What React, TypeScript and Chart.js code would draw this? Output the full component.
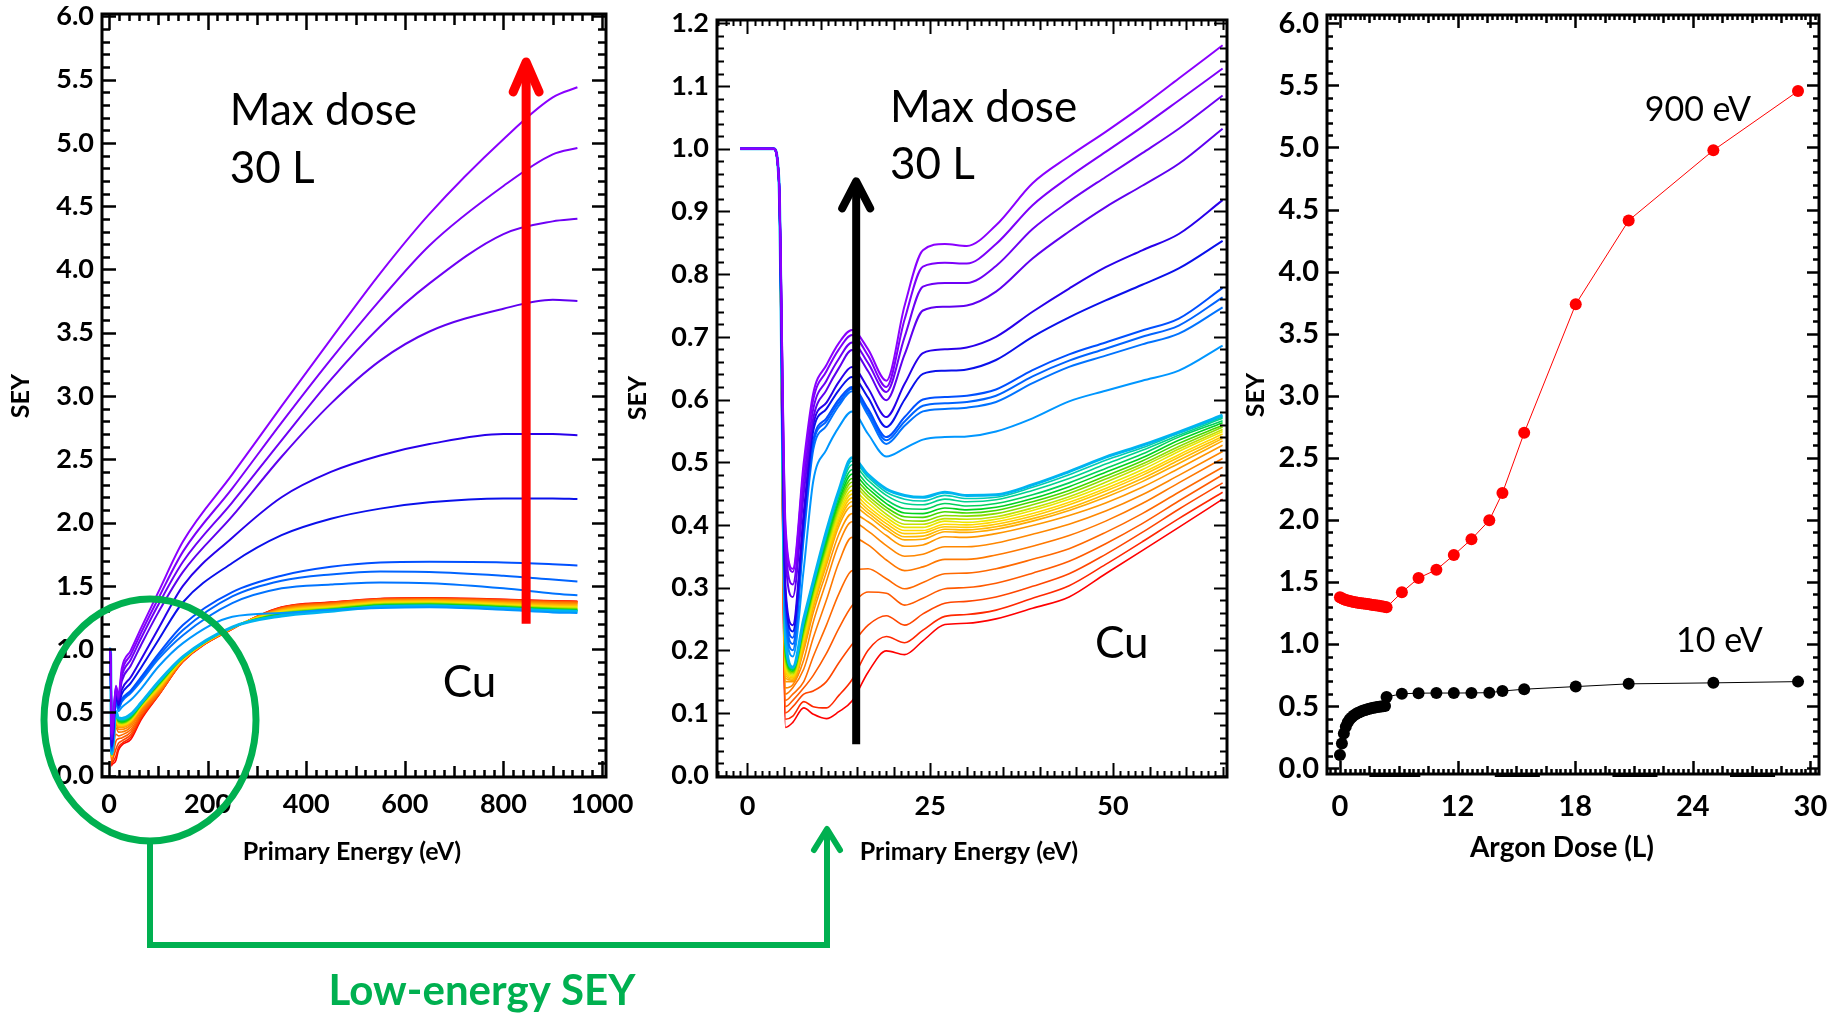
import React, { useEffect, useRef } from "react";
import { Chart, registerables } from "chart.js";

Chart.register(...registerables);

const W = 1837;
const H = 1015;
const FONT = "Lato, 'Open Sans', sans-serif";
const GREEN = "#00b050";

// ---------------- Panel 1 : SEY vs primary energy (0-1000 eV) ----------------
const p1Energy = [0, 3, 5, 6, 14, 19, 26, 44, 65, 100, 150, 250, 350, 450, 550, 650, 800, 900, 950];
// rows: V1, V2, V3, V4, B5, B6, B7, B8, B9, LB10 (highest dose first)
const p1Upper = [
  [1, 1, 0.40, 0.33, 0.711, 0.63, 0.848, 0.988, 1.165, 1.45, 1.85, 2.38, 2.92, 3.45, 3.97, 4.44, 5.03, 5.36, 5.44],
  [1, 1, 0.39, 0.325, 0.703, 0.62, 0.818, 0.955, 1.128, 1.40, 1.77, 2.27, 2.79, 3.29, 3.76, 4.19, 4.66, 4.91, 4.96],
  [1, 1, 0.37, 0.305, 0.691, 0.612, 0.786, 0.916, 1.085, 1.35, 1.69, 2.16, 2.65, 3.13, 3.55, 3.89, 4.28, 4.38, 4.40],
  [1, 1, 0.35, 0.285, 0.679, 0.599, 0.748, 0.868, 1.032, 1.29, 1.61, 2.05, 2.52, 2.94, 3.28, 3.51, 3.69, 3.76, 3.75],
  [1, 1, 0.30, 0.24, 0.652, 0.572, 0.680, 0.777, 0.918, 1.16, 1.50, 1.88, 2.20, 2.40, 2.53, 2.62, 2.70, 2.70, 2.69],
  [1, 1, 0.29, 0.23, 0.636, 0.556, 0.646, 0.731, 0.853, 1.07, 1.37, 1.68, 1.90, 2.03, 2.11, 2.16, 2.19, 2.19, 2.186],
  [1, 1, 0.28, 0.22, 0.620, 0.540, 0.604, 0.672, 0.778, 0.96, 1.19, 1.45, 1.58, 1.65, 1.684, 1.69, 1.685, 1.67, 1.66],
  [1, 1, 0.27, 0.21, 0.617, 0.535, 0.594, 0.662, 0.763, 0.94, 1.15, 1.416, 1.54, 1.59, 1.613, 1.61, 1.58, 1.55, 1.535],
  [1, 1, 0.26, 0.20, 0.613, 0.529, 0.585, 0.652, 0.747, 0.92, 1.11, 1.363, 1.48, 1.51, 1.526, 1.52, 1.48, 1.44, 1.425],
  [1, 1, 0.25, 0.19, 0.581, 0.509, 0.540, 0.597, 0.686, 0.86, 1.047, 1.255, 1.285, 1.31, 1.325, 1.33, 1.31, 1.29, 1.285],
];
// rows: C, D12 ... D1, L8 ... L1 (decreasing dose)
const p1Bundle = [
  [1, 1, 0.220, 0.173, 0.507, 0.457, 0.452, 0.485, 0.575, 0.740, 0.940, 1.174, 1.262, 1.298, 1.335, 1.340, 1.320, 1.302, 1.297],
  [1, 1, 0.216, 0.172, 0.502, 0.452, 0.447, 0.480, 0.572, 0.737, 0.938, 1.173, 1.265, 1.301, 1.337, 1.342, 1.322, 1.304, 1.299],
  [1, 1, 0.210, 0.171, 0.496, 0.447, 0.441, 0.474, 0.570, 0.733, 0.936, 1.173, 1.268, 1.304, 1.339, 1.344, 1.325, 1.307, 1.302],
  [1, 1, 0.203, 0.169, 0.488, 0.440, 0.434, 0.467, 0.566, 0.728, 0.934, 1.172, 1.272, 1.308, 1.342, 1.347, 1.328, 1.310, 1.305],
  [1, 1, 0.196, 0.168, 0.481, 0.434, 0.427, 0.461, 0.563, 0.723, 0.932, 1.172, 1.276, 1.312, 1.346, 1.351, 1.332, 1.314, 1.309],
  [1, 1, 0.190, 0.166, 0.474, 0.428, 0.421, 0.455, 0.559, 0.718, 0.930, 1.171, 1.280, 1.316, 1.350, 1.355, 1.336, 1.318, 1.313],
  [1, 1, 0.185, 0.164, 0.468, 0.423, 0.415, 0.450, 0.556, 0.712, 0.928, 1.171, 1.284, 1.320, 1.354, 1.359, 1.340, 1.322, 1.318],
  [1, 1, 0.180, 0.162, 0.462, 0.417, 0.410, 0.445, 0.552, 0.706, 0.926, 1.170, 1.288, 1.324, 1.358, 1.363, 1.344, 1.327, 1.323],
  [1, 1, 0.175, 0.160, 0.455, 0.412, 0.406, 0.441, 0.549, 0.700, 0.924, 1.170, 1.292, 1.328, 1.362, 1.367, 1.348, 1.332, 1.328],
  [1, 1, 0.170, 0.158, 0.449, 0.407, 0.401, 0.436, 0.545, 0.694, 0.922, 1.169, 1.296, 1.332, 1.366, 1.371, 1.352, 1.337, 1.333],
  [1, 1, 0.165, 0.156, 0.443, 0.402, 0.397, 0.432, 0.541, 0.688, 0.920, 1.168, 1.300, 1.336, 1.370, 1.375, 1.356, 1.341, 1.338],
  [1, 1, 0.160, 0.154, 0.437, 0.397, 0.393, 0.427, 0.538, 0.682, 0.918, 1.167, 1.304, 1.340, 1.374, 1.379, 1.361, 1.346, 1.343],
  [1, 1, 0.155, 0.152, 0.430, 0.392, 0.389, 0.423, 0.534, 0.676, 0.916, 1.166, 1.308, 1.344, 1.378, 1.383, 1.366, 1.351, 1.348],
  [1, 1, 0.150, 0.150, 0.418, 0.383, 0.381, 0.415, 0.527, 0.668, 0.914, 1.165, 1.312, 1.348, 1.381, 1.386, 1.370, 1.356, 1.353],
  [1, 1, 0.140, 0.145, 0.405, 0.367, 0.365, 0.401, 0.517, 0.660, 0.912, 1.164, 1.315, 1.352, 1.384, 1.389, 1.374, 1.361, 1.358],
  [1, 1, 0.130, 0.140, 0.380, 0.344, 0.345, 0.383, 0.506, 0.652, 0.910, 1.163, 1.318, 1.356, 1.387, 1.392, 1.378, 1.366, 1.363],
  [1, 1, 0.120, 0.130, 0.327, 0.314, 0.322, 0.362, 0.492, 0.645, 0.908, 1.162, 1.321, 1.360, 1.390, 1.395, 1.382, 1.370, 1.367],
  [1, 1, 0.110, 0.120, 0.271, 0.291, 0.298, 0.342, 0.480, 0.640, 0.906, 1.161, 1.324, 1.363, 1.393, 1.398, 1.386, 1.374, 1.371],
  [1, 1, 0.100, 0.110, 0.209, 0.255, 0.275, 0.322, 0.467, 0.636, 0.904, 1.160, 1.327, 1.366, 1.396, 1.401, 1.389, 1.377, 1.374],
  [1, 1, 0.090, 0.095, 0.153, 0.222, 0.254, 0.303, 0.452, 0.633, 0.902, 1.159, 1.330, 1.369, 1.398, 1.403, 1.391, 1.379, 1.376],
  [1, 1, 0.077, 0.085, 0.119, 0.199, 0.241, 0.285, 0.441, 0.630, 0.900, 1.158, 1.332, 1.371, 1.400, 1.405, 1.393, 1.381, 1.378],
];

// ---------------- Panel 2 : low-energy SEY (0-65 eV) ----------------
const p2Energy = [-1, 3.6, 4.3, 5.2, 6.2, 7.7, 9, 10.8, 12.5, 14.3, 16.5, 19, 21.5, 24, 27, 30, 34, 39, 44, 49, 54, 59, 65];
const p2Upper = [
  [1, 1, 0.95, 0.40, 0.33, 0.50, 0.61, 0.655, 0.69, 0.711, 0.68, 0.63, 0.75, 0.838, 0.848, 0.845, 0.878, 0.945, 0.988, 1.027, 1.068, 1.112, 1.165],
  [1, 1, 0.95, 0.39, 0.325, 0.49, 0.60, 0.645, 0.68, 0.703, 0.67, 0.62, 0.728, 0.812, 0.818, 0.817, 0.848, 0.91, 0.955, 0.995, 1.035, 1.077, 1.128],
  [1, 1, 0.95, 0.37, 0.305, 0.47, 0.585, 0.63, 0.665, 0.691, 0.658, 0.612, 0.70, 0.78, 0.786, 0.786, 0.813, 0.872, 0.916, 0.955, 0.993, 1.032, 1.085],
  [1, 1, 0.95, 0.35, 0.285, 0.45, 0.57, 0.615, 0.65, 0.679, 0.645, 0.599, 0.672, 0.742, 0.748, 0.750, 0.772, 0.825, 0.868, 0.907, 0.941, 0.976, 1.032],
  [1, 1, 0.95, 0.30, 0.24, 0.42, 0.56, 0.595, 0.628, 0.652, 0.618, 0.572, 0.625, 0.674, 0.680, 0.683, 0.70, 0.74, 0.777, 0.811, 0.838, 0.864, 0.918],
  [1, 1, 0.95, 0.29, 0.23, 0.41, 0.55, 0.585, 0.615, 0.636, 0.603, 0.556, 0.600, 0.641, 0.646, 0.648, 0.663, 0.70, 0.731, 0.758, 0.783, 0.809, 0.853],
  [1, 1, 0.95, 0.28, 0.22, 0.40, 0.535, 0.57, 0.600, 0.620, 0.585, 0.540, 0.572, 0.600, 0.604, 0.606, 0.616, 0.647, 0.672, 0.691, 0.710, 0.729, 0.778],
  [1, 1, 0.95, 0.27, 0.21, 0.39, 0.53, 0.565, 0.595, 0.617, 0.58, 0.535, 0.565, 0.590, 0.594, 0.596, 0.606, 0.637, 0.662, 0.681, 0.70, 0.718, 0.763],
  [1, 1, 0.95, 0.26, 0.20, 0.38, 0.52, 0.558, 0.590, 0.613, 0.575, 0.529, 0.558, 0.581, 0.585, 0.587, 0.596, 0.626, 0.652, 0.670, 0.688, 0.705, 0.747],
  [1, 1, 0.95, 0.25, 0.19, 0.33, 0.47, 0.52, 0.556, 0.581, 0.545, 0.509, 0.522, 0.536, 0.540, 0.541, 0.549, 0.570, 0.597, 0.614, 0.630, 0.646, 0.686],
];
const p2Bundle = [
  [1, 1, 0.95, 0.220, 0.173, 0.250, 0.310, 0.390, 0.455, 0.507, 0.480, 0.457, 0.447, 0.444, 0.452, 0.447, 0.448, 0.464, 0.485, 0.508, 0.527, 0.548, 0.575],
  [1, 1, 0.95, 0.216, 0.172, 0.248, 0.308, 0.387, 0.452, 0.502, 0.476, 0.452, 0.441, 0.438, 0.447, 0.442, 0.444, 0.460, 0.480, 0.503, 0.523, 0.546, 0.572],
  [1, 1, 0.95, 0.210, 0.171, 0.245, 0.305, 0.384, 0.449, 0.496, 0.471, 0.447, 0.434, 0.432, 0.441, 0.437, 0.440, 0.455, 0.474, 0.497, 0.519, 0.543, 0.570],
  [1, 1, 0.95, 0.203, 0.169, 0.242, 0.302, 0.380, 0.444, 0.488, 0.464, 0.440, 0.426, 0.425, 0.434, 0.430, 0.434, 0.448, 0.467, 0.490, 0.513, 0.540, 0.566],
  [1, 1, 0.95, 0.196, 0.168, 0.238, 0.299, 0.375, 0.439, 0.481, 0.458, 0.434, 0.419, 0.418, 0.427, 0.424, 0.428, 0.442, 0.461, 0.484, 0.507, 0.535, 0.563],
  [1, 1, 0.95, 0.190, 0.166, 0.234, 0.296, 0.370, 0.434, 0.474, 0.452, 0.428, 0.413, 0.412, 0.421, 0.419, 0.423, 0.437, 0.455, 0.478, 0.502, 0.530, 0.559],
  [1, 1, 0.95, 0.185, 0.164, 0.230, 0.292, 0.366, 0.429, 0.468, 0.446, 0.423, 0.407, 0.406, 0.415, 0.414, 0.418, 0.432, 0.450, 0.473, 0.497, 0.525, 0.556],
  [1, 1, 0.95, 0.180, 0.162, 0.226, 0.288, 0.361, 0.424, 0.462, 0.441, 0.417, 0.401, 0.401, 0.410, 0.409, 0.413, 0.427, 0.445, 0.468, 0.493, 0.521, 0.552],
  [1, 1, 0.95, 0.175, 0.160, 0.222, 0.284, 0.356, 0.419, 0.455, 0.435, 0.412, 0.396, 0.396, 0.406, 0.404, 0.409, 0.423, 0.441, 0.463, 0.488, 0.517, 0.549],
  [1, 1, 0.95, 0.170, 0.158, 0.218, 0.280, 0.351, 0.414, 0.449, 0.429, 0.407, 0.391, 0.391, 0.401, 0.400, 0.405, 0.418, 0.436, 0.458, 0.483, 0.512, 0.545],
  [1, 1, 0.95, 0.165, 0.156, 0.214, 0.276, 0.346, 0.409, 0.443, 0.424, 0.402, 0.386, 0.387, 0.397, 0.396, 0.401, 0.414, 0.432, 0.454, 0.479, 0.508, 0.541],
  [1, 1, 0.95, 0.160, 0.154, 0.210, 0.272, 0.341, 0.404, 0.437, 0.419, 0.397, 0.381, 0.382, 0.393, 0.392, 0.397, 0.410, 0.427, 0.449, 0.474, 0.503, 0.538],
  [1, 1, 0.95, 0.155, 0.152, 0.205, 0.268, 0.336, 0.398, 0.430, 0.414, 0.392, 0.376, 0.377, 0.389, 0.388, 0.393, 0.406, 0.423, 0.444, 0.469, 0.498, 0.534],
  [1, 1, 0.95, 0.150, 0.150, 0.200, 0.260, 0.325, 0.385, 0.418, 0.405, 0.383, 0.366, 0.368, 0.381, 0.380, 0.386, 0.399, 0.415, 0.435, 0.460, 0.490, 0.527],
  [1, 1, 0.95, 0.140, 0.145, 0.185, 0.245, 0.310, 0.370, 0.405, 0.390, 0.367, 0.350, 0.353, 0.365, 0.365, 0.371, 0.385, 0.401, 0.422, 0.448, 0.479, 0.517],
  [1, 1, 0.95, 0.130, 0.140, 0.170, 0.220, 0.280, 0.340, 0.380, 0.368, 0.344, 0.327, 0.333, 0.345, 0.345, 0.352, 0.366, 0.383, 0.406, 0.434, 0.467, 0.506],
  [1, 1, 0.95, 0.120, 0.130, 0.150, 0.190, 0.240, 0.290, 0.327, 0.330, 0.314, 0.298, 0.308, 0.322, 0.323, 0.330, 0.345, 0.362, 0.388, 0.418, 0.452, 0.492],
  [1, 1, 0.95, 0.110, 0.120, 0.140, 0.160, 0.195, 0.235, 0.271, 0.293, 0.291, 0.272, 0.283, 0.298, 0.300, 0.307, 0.323, 0.342, 0.370, 0.402, 0.438, 0.480],
  [1, 1, 0.95, 0.100, 0.110, 0.130, 0.135, 0.150, 0.180, 0.209, 0.240, 0.255, 0.240, 0.258, 0.275, 0.278, 0.285, 0.302, 0.322, 0.353, 0.388, 0.425, 0.467],
  [1, 1, 0.95, 0.090, 0.095, 0.118, 0.110, 0.108, 0.128, 0.153, 0.200, 0.222, 0.212, 0.232, 0.254, 0.257, 0.264, 0.283, 0.303, 0.337, 0.373, 0.410, 0.452],
  [1, 1, 0.95, 0.077, 0.085, 0.108, 0.098, 0.091, 0.102, 0.119, 0.165, 0.199, 0.193, 0.215, 0.241, 0.243, 0.250, 0.267, 0.285, 0.322, 0.359, 0.396, 0.441],
];

// colours: first 10 for the upper rows, next 21 for the bundle rows
const upperColors = ["#8a00ff", "#7d00fa", "#6e00f5", "#5f00f0", "#2800eb", "#0a10eb", "#0050ff", "#0064ff", "#0073ff", "#0096ff"];
const bundleColors = [
  "#00b4f0", "#00cdaf", "#00d28c", "#00d25a", "#00d21e", "#46d700", "#8cdc00", "#c3e100",
  "#ebe600", "#ffd700", "#ffc800", "#ffb900", "#ffaa00", "#ff9600", "#ff8700", "#ff7800",
  "#ff6900", "#ff5a00", "#ff4600", "#ff2800", "#ff0000",
];

// ---------------- Panel 3 : SEY vs argon dose ----------------
// x positions expressed in the plotted axis units (tick labels below)
const p3Dose = [0, 0.1, 0.2, 0.3, 0.4, 0.5, 0.6, 0.7, 0.8, 0.9, 1.0, 1.1, 1.2, 1.3, 1.4, 1.5, 1.6, 1.7, 1.8, 1.9, 2.0, 2.1, 2.2, 2.3,
  2.38, 3.16, 4.01, 4.92, 5.81, 6.71, 7.62, 8.29, 9.40, 12.03, 14.73, 19.05, 23.37];
const p3Sey900 = [1.377, 1.370, 1.362, 1.356, 1.351, 1.347, 1.343, 1.340, 1.337, 1.334, 1.332, 1.329, 1.327, 1.325, 1.323, 1.321, 1.318, 1.316, 1.314, 1.311, 1.309, 1.306, 1.303, 1.300,
  1.297, 1.417, 1.532, 1.599, 1.717, 1.845, 1.997, 2.217, 2.702, 3.738, 4.412, 4.977, 5.454];
const p3Sey10 = [0.107, 0.20, 0.28, 0.335, 0.37, 0.395, 0.41, 0.425, 0.436, 0.445, 0.452, 0.459, 0.465, 0.47, 0.475, 0.479, 0.483, 0.487, 0.49, 0.493, 0.496, 0.498, 0.50, 0.502,
  0.575, 0.600, 0.605, 0.606, 0.606, 0.607, 0.609, 0.622, 0.637, 0.658, 0.680, 0.688, 0.698];

// ---------------- tick values / labels ----------------
const p1XTicks = [0, 200, 400, 600, 800, 1000];
const p1YTicks = [0, 0.5, 1, 1.5, 2, 2.5, 3, 3.5, 4, 4.5, 5, 5.5, 6];
const p2XTicks = [0, 25, 50];
const p2YTicks = [0, 0.1, 0.2, 0.3, 0.4, 0.5, 0.6, 0.7, 0.8, 0.9, 1.0, 1.1, 1.2];
const p3XTicks = [0, 6, 12, 18, 24];
const p3XTickLabels = ["0", "12", "18", "24", "30"];
const p3YTicks = [0, 0.5, 1, 1.5, 2, 2.5, 3, 3.5, 4, 4.5, 5, 5.5, 6];

// ---------------- helpers ----------------
function drawFrameTicks(chart: any, spec: any) {
  const { ctx, chartArea: a, scales } = chart;
  const x = scales.x;
  const y = scales.y;
  const lenFor = (v: number, levels: number[][]) => {
    for (const [step, len] of levels) {
      const r = v / step;
      if (Math.abs(r - Math.round(r)) < 1e-6) return len;
    }
    return 0;
  };
  ctx.save();
  ctx.strokeStyle = "#000";
  ctx.lineWidth = spec.tickWidth;
  ctx.beginPath();
  const nx = Math.round((spec.xTo - spec.xFrom) / spec.xMinor);
  for (let i = 0; i <= nx; i++) {
    const v = spec.xFrom + i * spec.xMinor;
    const len = lenFor(v, spec.xLevels);
    const px = Math.round(x.getPixelForValue(v)) + 0.5;
    ctx.moveTo(px, a.bottom);
    ctx.lineTo(px, a.bottom - len);
    ctx.moveTo(px, a.top);
    ctx.lineTo(px, a.top + len);
  }
  const ny = Math.round((spec.yTo - spec.yFrom) / spec.yMinor);
  for (let i = 0; i <= ny; i++) {
    const v = spec.yFrom + i * spec.yMinor;
    const len = lenFor(v, spec.yLevels);
    const py = Math.round(y.getPixelForValue(v)) + 0.5;
    ctx.moveTo(a.left, py);
    ctx.lineTo(a.left + len, py);
    ctx.moveTo(a.right, py);
    ctx.lineTo(a.right - len, py);
  }
  ctx.stroke();
  ctx.lineWidth = spec.frameWidth;
  ctx.strokeRect(a.left, a.top, a.right - a.left, a.bottom - a.top);
  ctx.restore();
}

function arrowUp(ctx: any, x: number, yTip: number, yBottom: number, armDx: number, armDy: number, width: number, color: string) {
  ctx.save();
  ctx.strokeStyle = color;
  ctx.lineWidth = width;
  ctx.lineCap = "butt";
  ctx.beginPath();
  ctx.moveTo(x, yBottom);
  ctx.lineTo(x, yTip + 2);
  ctx.stroke();
  ctx.lineCap = "round";
  ctx.lineJoin = "round";
  ctx.beginPath();
  ctx.moveTo(x - armDx, yTip + armDy);
  ctx.lineTo(x, yTip);
  ctx.lineTo(x + armDx, yTip + armDy);
  ctx.stroke();
  ctx.restore();
}

function text(ctx: any, s: string, x: number, y: number, font: string, color: string, align = "left", rot = 0) {
  ctx.save();
  ctx.font = font;
  ctx.fillStyle = color;
  ctx.textAlign = align;
  ctx.textBaseline = "alphabetic";
  ctx.translate(x, y);
  if (rot) ctx.rotate(rot);
  ctx.fillText(s, 0, 0);
  ctx.restore();
}

function textMid(ctx: any, s: string, x: number, y: number, font: string, color: string, rot = 0) {
  ctx.save();
  ctx.font = font;
  ctx.fillStyle = color;
  ctx.textAlign = "center";
  ctx.textBaseline = "middle";
  ctx.translate(x, y);
  if (rot) ctx.rotate(rot);
  ctx.fillText(s, 0, 0);
  ctx.restore();
}

function xAxis(min: number, max: number, ticks: number[], fmt: any, font: any, padding: number) {
  return {
    type: "linear",
    position: "bottom",
    min,
    max,
    grid: { display: false, drawTicks: false },
    border: { display: false },
    ticks: { color: "#000", font, padding, maxRotation: 0, minRotation: 0, autoSkip: false, callback: fmt },
    afterBuildTicks: (s: any) => {
      s.ticks = ticks.map((v) => ({ value: v }));
    },
    afterFit: (s: any) => {
      s.height = 60;
      s.paddingLeft = 0;
      s.paddingRight = 0;
      s.paddingTop = 0;
      s.paddingBottom = 0;
    },
  };
}

function yAxis(min: number, max: number, ticks: number[], font: any, padding: number) {
  return {
    type: "linear",
    position: "left",
    min,
    max,
    grid: { display: false, drawTicks: false },
    border: { display: false },
    ticks: { color: "#000", font, padding, autoSkip: false, callback: (v: any) => Number(v).toFixed(1) },
    afterBuildTicks: (s: any) => {
      s.ticks = ticks.map((v) => ({ value: v }));
    },
    afterFit: (s: any) => {
      s.width = 70;
      s.paddingLeft = 0;
      s.paddingRight = 0;
      s.paddingTop = 0;
      s.paddingBottom = 0;
    },
  };
}

function curveSets(energy: number[], upper: number[][], bundle: number[][]) {
  const sets: any[] = [];
  upper.forEach((row, i) => {
    sets.push({
      data: energy.map((e, k) => ({ x: e, y: row[k] })),
      borderColor: upperColors[i],
      borderWidth: 2,
      pointRadius: 0,
      cubicInterpolationMode: "monotone",
      fill: false,
    });
  });
  bundle.forEach((row, i) => {
    sets.push({
      data: energy.map((e, k) => ({ x: e, y: row[k] })),
      borderColor: bundleColors[i],
      borderWidth: i === 0 ? 3 : 1.6,
      pointRadius: 0,
      cubicInterpolationMode: "monotone",
      fill: false,
    });
  });
  return sets;
}

const baseOptions = {
  responsive: false,
  maintainAspectRatio: false,
  animation: false,
  events: [],
  plugins: { legend: { display: false }, tooltip: { enabled: false } },
};

const TICK12 = { family: FONT, size: 27, weight: "bold" };
const TICK3 = { family: FONT, size: 29, weight: "bold" };

// ---------------- panel configs ----------------
function config1(): any {
  return {
    type: "line",
    data: { datasets: curveSets(p1Energy, p1Upper, p1Bundle) },
    options: {
      ...baseOptions,
      layout: { padding: { left: 32, right: W - 606, top: 14, bottom: H - 777 - 60 } },
      scales: {
        x: xAxis(-14.2, 1008, p1XTicks, (v: any) => String(v), TICK12, 11),
        y: yAxis(-0.011, 6.019, p1YTicks, TICK12, 8),
      },
    },
    plugins: [
      {
        id: "deco1",
        afterDraw(chart: any) {
          const { ctx, scales } = chart;
          const x = scales.x;
          const y = scales.y;
          drawFrameTicks(chart, {
            xFrom: 0, xTo: 1000, xMinor: 20, xLevels: [[200, 16], [100, 11], [20, 7]],
            yFrom: 0, yTo: 6, yMinor: 0.1, yLevels: [[0.5, 14], [0.1, 8]],
            tickWidth: 2.5, frameWidth: 3,
          });
          arrowUp(ctx, x.getPixelForValue(846), y.getPixelForValue(5.64), y.getPixelForValue(1.2), 13, 30, 9, "#ff0000");
          const big = `44px ${FONT}`;
          text(ctx, "Max dose", x.getPixelForValue(245), y.getPixelForValue(5.14), big, "#000");
          text(ctx, "30 L", x.getPixelForValue(245), y.getPixelForValue(4.68), big, "#000");
          text(ctx, "Cu", x.getPixelForValue(677), y.getPixelForValue(0.62), big, "#000");
          textMid(ctx, "SEY", 21, 396, `bold 25px ${FONT}`, "#000", -Math.PI / 2);
          textMid(ctx, "Primary Energy (eV)", 352, 852, `bold 25px ${FONT}`, "#000");
          // green annotation: ellipse + bracket + arrow + label
          ctx.save();
          ctx.strokeStyle = GREEN;
          ctx.lineWidth = 7;
          ctx.beginPath();
          ctx.ellipse(150, 720, 106, 121, 0, 0, Math.PI * 2);
          ctx.stroke();
          ctx.lineWidth = 6;
          ctx.lineJoin = "miter";
          ctx.beginPath();
          ctx.moveTo(150, 841);
          ctx.lineTo(150, 945);
          ctx.lineTo(827, 945);
          ctx.lineTo(827, 832);
          ctx.stroke();
          ctx.lineCap = "round";
          ctx.lineJoin = "round";
          ctx.beginPath();
          ctx.moveTo(814, 850);
          ctx.lineTo(827, 829);
          ctx.lineTo(840, 850);
          ctx.stroke();
          ctx.restore();
          text(ctx, "Low-energy SEY", 482, 1005, `bold 42px ${FONT}`, GREEN, "center");
        },
      },
    ],
  };
}

function config2(): any {
  return {
    type: "line",
    data: { datasets: curveSets(p2Energy, p2Upper, p2Bundle) },
    options: {
      ...baseOptions,
      layout: { padding: { left: 717 - 70, right: W - 1227, top: 20, bottom: H - 777 - 60 } },
      scales: {
        x: xAxis(-4.17, 65.6, p2XTicks, (v: any) => String(v), TICK12, 13),
        y: yAxis(-0.0022, 1.2054, p2YTicks, TICK12, 8),
      },
    },
    plugins: [
      {
        id: "deco2",
        afterDraw(chart: any) {
          const { ctx, scales } = chart;
          const x = scales.x;
          const y = scales.y;
          drawFrameTicks(chart, {
            xFrom: -4, xTo: 65, xMinor: 1, xLevels: [[25, 14], [5, 10], [1, 6]],
            yFrom: 0, yTo: 1.2, yMinor: 0.02, yLevels: [[0.1, 13], [0.02, 7]],
            tickWidth: 2, frameWidth: 3,
          });
          arrowUp(ctx, x.getPixelForValue(14.87), y.getPixelForValue(0.948), y.getPixelForValue(0.05), 14, 27, 8, "#000");
          const big = `44px ${FONT}`;
          text(ctx, "Max dose", x.getPixelForValue(19.5), y.getPixelForValue(1.043), big, "#000");
          text(ctx, "30 L", x.getPixelForValue(19.5), y.getPixelForValue(0.951), big, "#000");
          text(ctx, "Cu", x.getPixelForValue(47.55), y.getPixelForValue(0.1876), big, "#000");
          textMid(ctx, "SEY", 638, 398, `bold 25px ${FONT}`, "#000", -Math.PI / 2);
          textMid(ctx, "Primary Energy (eV)", 969, 852, `bold 25px ${FONT}`, "#000");
        },
      },
    ],
  };
}

function config3(): any {
  const mk = (vals: number[], color: string) => ({
    data: p3Dose.map((d, k) => ({ x: d, y: vals[k] })),
    borderColor: color,
    backgroundColor: color,
    borderWidth: 1,
    pointRadius: 6,
    pointBorderWidth: 0,
    pointBackgroundColor: color,
    tension: 0,
    fill: false,
  });
  return {
    type: "line",
    data: { datasets: [mk(p3Sey900, "#ff0000"), mk(p3Sey10, "#000000")] },
    options: {
      ...baseOptions,
      layout: { padding: { left: 1327 - 70, right: W - 1819, top: 15, bottom: H - 774 - 60 } },
      scales: {
        x: xAxis(-0.66, 24.44, p3XTicks, (_v: any, i: number) => p3XTickLabels[i], TICK3, 15),
        y: yAxis(-0.046, 6.067, p3YTicks, TICK3, 8),
      },
    },
    plugins: [
      {
        id: "deco3",
        afterDraw(chart: any) {
          const { ctx, scales, chartArea: a } = chart;
          const x = scales.x;
          const y = scales.y;
          drawFrameTicks(chart, {
            xFrom: -0.5, xTo: 24.25, xMinor: 0.25, xLevels: [[6, 13], [1.5, 8], [0.25, 5]],
            yFrom: 0, yTo: 6, yMinor: 0.1, yLevels: [[0.5, 12], [0.1, 6]],
            tickWidth: 2.5, frameWidth: 3,
          });
          // thick segments under the bottom frame
          ctx.save();
          ctx.fillStyle = "#000";
          for (const [u0, u1] of [[1.5, 4.1], [7.9, 10.2], [13.9, 16.2], [19.9, 22.2]]) {
            const x0 = x.getPixelForValue(u0);
            const x1 = x.getPixelForValue(u1);
            ctx.fillRect(x0, a.bottom, x1 - x0, 3);
          }
          ctx.restore();
          text(ctx, "900 eV", x.getPixelForValue(15.55), y.getPixelForValue(5.21), `34px ${FONT}`, "#000");
          text(ctx, "10 eV", x.getPixelForValue(17.15), y.getPixelForValue(0.936), `34px ${FONT}`, "#000");
          textMid(ctx, "SEY", 1256, 395, `bold 25px ${FONT}`, "#000", -Math.PI / 2);
          textMid(ctx, "Argon Dose (L)", 1562, 848, `bold 28px ${FONT}`, "#000");
        },
      },
    ],
  };
}

export default function App() {
  const r1 = useRef<HTMLCanvasElement>(null);
  const r2 = useRef<HTMLCanvasElement>(null);
  const r3 = useRef<HTMLCanvasElement>(null);

  useEffect(() => {
    const charts = [
      new Chart(r1.current as any, config1()),
      new Chart(r2.current as any, config2()),
      new Chart(r3.current as any, config3()),
    ];
    return () => charts.forEach((c) => c.destroy());
  }, []);

  const st: any = { position: "absolute", left: 0, top: 0, width: W, height: H };
  return (
    <div style={{ position: "fixed", left: 0, top: 0, width: W, height: H, background: "#fff", overflow: "hidden" }}>
      <canvas ref={r1} width={W} height={H} style={st} />
      <canvas ref={r2} width={W} height={H} style={st} />
      <canvas ref={r3} width={W} height={H} style={st} />
    </div>
  );
}
